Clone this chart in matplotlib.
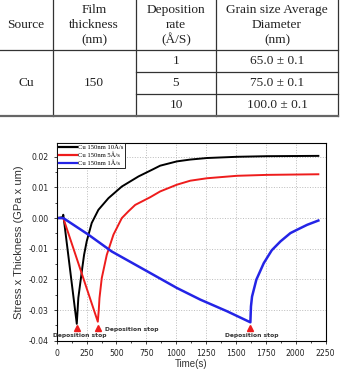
import matplotlib
matplotlib.use('Agg')
from matplotlib import pyplot as plt
from matplotlib.ticker import MultipleLocator, FormatStrFormatter

plt.rcParams['axes.unicode_minus'] = False

# ---- table data ----
header = [["Source"], ["Film", "thickness", "(nm)"],
          ["Deposition", "rate", "(\u00c5/S)"],
          ["Grain size Average", "Diameter", "(nm)"]]
source = "Cu"
thickness = "150"
rates = ["1", "5", "10"]
grain = ["65.0 \u00b1 0.1", "75.0 \u00b1 0.1", "100.0 \u00b1 0.1"]

# ---- curve data (time s, stress x thickness GPa x um) ----
t_10 = [0, 50, 55, 168, 181, 210, 229, 251, 293, 349, 433, 545, 685, 810, 866, 1006, 1118, 1258,
        1509, 1761, 2190]
v_10 = [0, 0.0003, 0.0011, -0.0345, -0.026, -0.0174, -0.012, -0.0076, -0.0016, 0.0027, 0.0065,
        0.0103, 0.0136, 0.0160, 0.0171, 0.0185, 0.0191, 0.0196, 0.0200, 0.0202, 0.0203]

t_5 = [0, 55, 344, 352, 358, 377, 419, 475, 545, 600, 657, 782, 866, 1006, 1118, 1258, 1509, 1761, 2190]
v_5 = [0, 0, -0.0338, -0.030, -0.0261, -0.0196, -0.012, -0.0054, 0, 0.0022, 0.0043, 0.0068, 0.0087,
       0.0109, 0.0122, 0.0130, 0.0138, 0.0141, 0.0143]

t_1 = [0, 55, 265, 461, 782, 1006, 1202, 1426, 1621, 1626, 1635, 1671, 1733, 1800, 1873, 1956,
       2012, 2096, 2190]
v_1 = [0, 0, -0.0054, -0.0109, -0.0179, -0.0228, -0.0266, -0.0304, -0.0340, -0.0288, -0.0256,
       -0.0201, -0.0147, -0.0105, -0.0076, -0.0049, -0.0038, -0.0022, -0.0008]

stop_t = [168, 347, 1621]
stop_v = [-0.0359, -0.0359, -0.0359]
stop_label = "Deposition stop"

fig = plt.figure(figsize=(3.4, 3.69), dpi=100)

# ---- table drawn in pixel coordinates ----
tab = fig.add_axes([0, 0, 1, 1], facecolor='none')
tab.set_xlim(0, 340)
tab.set_ylim(369, 0)
tab.axis('off')

col_x = [26, 94, 176, 277]
line_y = [10, 24.5, 40]
for cx, lines in zip(col_x, header):
    if len(lines) == 1:
        tab.text(cx, 25, lines[0], ha='center', va='center', family='Liberation Serif',
                 fontsize=9.6, color='#222222')
    else:
        for ly, s in zip(line_y, lines):
            tab.text(cx, ly, s, ha='center', va='center', family='Liberation Serif',
                     fontsize=9.6, color='#222222')

row_y = [61, 83, 104.5]
tab.text(col_x[0], 83, source, ha='center', va='center', family='Liberation Serif', fontsize=9.6, color='#222222')
tab.text(col_x[1], 83, thickness, ha='center', va='center', family='Liberation Serif', fontsize=9.6, color='#222222')
for ry, r, g in zip(row_y, rates, grain):
    tab.text(col_x[2], ry, r, ha='center', va='center', family='Liberation Serif', fontsize=9.6, color='#222222')
    tab.text(col_x[3], ry, g, ha='center', va='center', family='Liberation Serif', fontsize=9.6, color='#222222')

lc = '#333333'
for vx in [52.5, 136, 216, 338]:
    tab.plot([vx, vx], [0, 115.5], color=lc, lw=0.9)
tab.plot([0, 338], [50, 50], color=lc, lw=0.9)
tab.plot([136, 338], [72, 72], color=lc, lw=0.9)
tab.plot([136, 338], [94, 94], color=lc, lw=0.9)
tab.plot([0, 338], [115.5, 115.5], color='#666666', lw=1.6)

# ---- chart ----
ax = fig.add_axes([0.1668, 0.0767, 0.7906, 0.5366])
ax.plot(t_10, v_10, color='black', lw=1.4, label='Cu 150nm 10\u00c5/s')
ax.plot(t_5, v_5, color='#ee1c1c', lw=1.4, label='Cu 150nm 5\u00c5/s')
ax.plot(t_1, v_1, color='#2424e6', lw=1.8, label='Cu 150nm 1\u00c5/s')
ax.plot(stop_t, stop_v, linestyle='none', marker='^', color='#ee1c1c', markersize=4)

ax.text(195, -0.0384, stop_label, ha='center', va='center', fontsize=4.3, fontweight='bold', color='#333333')
ax.text(405, -0.0362, stop_label, ha='left', va='center', fontsize=4.3, fontweight='bold', color='#333333')
ax.text(1629, -0.0384, stop_label, ha='center', va='center', fontsize=4.3, fontweight='bold', color='#333333')

ax.set_xlim(0, 2250)
ax.set_ylim(-0.04, 0.0246)
ax.xaxis.set_major_locator(MultipleLocator(250))
ax.xaxis.set_minor_locator(MultipleLocator(125))
ax.yaxis.set_major_locator(MultipleLocator(0.01))
ax.yaxis.set_minor_locator(MultipleLocator(0.005))
ax.yaxis.set_major_formatter(FormatStrFormatter('%.2f'))
ax.grid(True, which='major', linestyle=':', color='#bbbbbb', lw=0.7)
ax.tick_params(which='both', direction='out', labelsize=5.6, colors='#222222', width=0.6)
ax.tick_params(which='major', length=2.5)
ax.tick_params(which='minor', length=1.5)
for sp in ax.spines.values():
    sp.set_linewidth(0.8)

ax.set_xlabel('Time(s)', family='Liberation Sans', fontsize=7, color='#333333', labelpad=1)
ax.set_ylabel('Stress x Thickness (GPa x um)', family='Liberation Sans', fontsize=8, color='#333333', labelpad=3)

leg = ax.legend(loc='upper left', prop={'family': 'Liberation Serif', 'size': 4.8},
                frameon=True, fancybox=False, edgecolor='black', framealpha=1,
                borderaxespad=0.1, handlelength=2.8, handletextpad=0.1, labelspacing=0.35,
                borderpad=0.2)
leg.get_frame().set_linewidth(0.6)
for h in leg.get_lines():
    h.set_linewidth(1.6)

fig.savefig('out.png', dpi=100)
